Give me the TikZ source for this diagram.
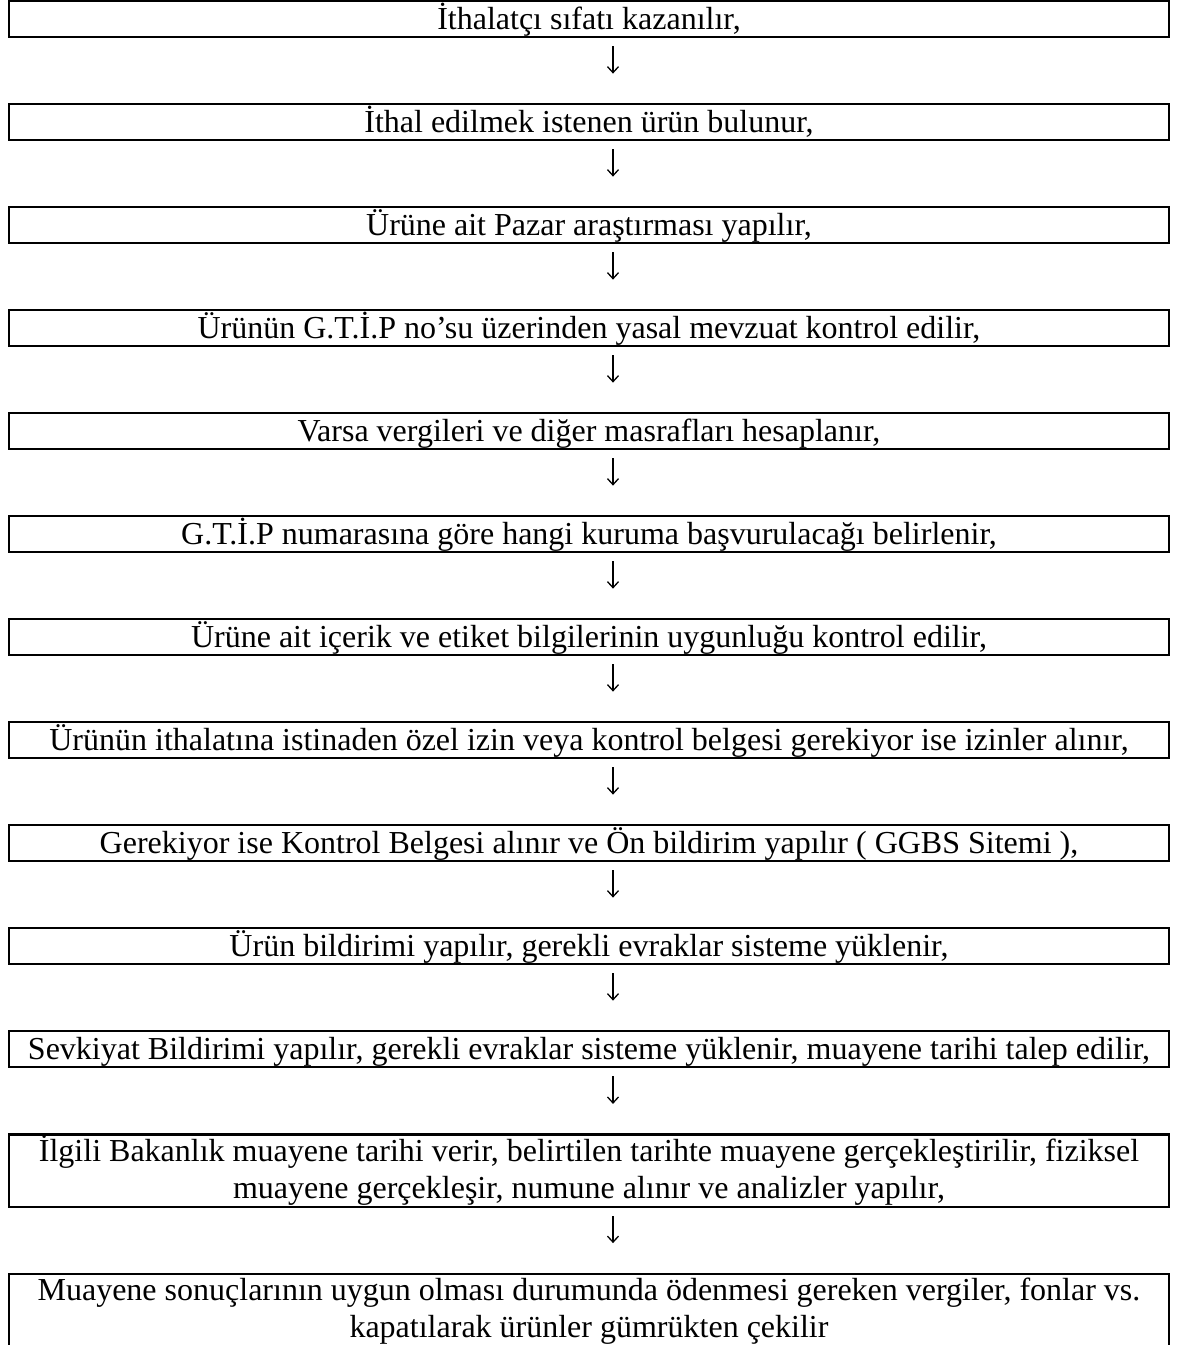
\documentclass[tikz,border=0pt]{standalone}
\usepackage{fontspec}
\setmainfont{Liberation Serif}
\usetikzlibrary{arrows.meta}

\begin{document}
\begin{tikzpicture}[x=1pt,y=-1pt,
  stepbox/.style={draw,line width=2.2pt,minimum width=1159.8pt,inner xsep=0pt,inner ysep=0pt,
    text height=27.9pt,text depth=8.2pt,font=\fontsize{32}{37}\selectfont},
  twoline/.style={stepbox,align=center,text height=64.3pt,text depth=8.5pt},
  flow/.style={-{Straight Barb[length=6pt,width=11pt]},line width=1.3pt,shorten <=7.7pt,shorten >=29.4pt}]
  \useasboundingbox (0,0) rectangle (1179,1345);

  \node[stepbox] (S1) at (589, 19.15) {İthalatçı sıfatı kazanılır,};
  \node[stepbox] (S2) at (589, 122.15) {İthal edilmek istenen ürün bulunur,};
  \node[stepbox] (S3) at (589, 225.15) {Ürüne ait Pazar araştırması yapılır,};
  \node[stepbox] (S4) at (589, 328.15) {Ürünün G.T.İ.P no’su üzerinden yasal mevzuat kontrol edilir,};
  \node[stepbox] (S5) at (589, 431.15) {Varsa vergileri ve diğer masrafları hesaplanır,};
  \node[stepbox] (S6) at (589, 534.15) {G.T.İ.P numarasına göre hangi kuruma başvurulacağı belirlenir,};
  \node[stepbox] (S7) at (589, 637.15) {Ürüne ait içerik ve etiket bilgilerinin uygunluğu kontrol edilir,};
  \node[stepbox] (S8) at (589, 740.15) {Ürünün ithalatına istinaden özel izin veya kontrol belgesi gerekiyor ise izinler alınır,};
  \node[stepbox] (S9) at (589, 843.15) {Gerekiyor ise Kontrol Belgesi alınır ve Ön bildirim yapılır ( GGBS Sitemi ),};
  \node[stepbox] (S10) at (589, 946.15) {Ürün bildirimi yapılır, gerekli evraklar sisteme yüklenir,};
  \node[stepbox] (S11) at (589, 1049.15) {Sevkiyat Bildirimi yapılır, gerekli evraklar sisteme yüklenir, muayene tarihi talep edilir,};
  \node[twoline] (S12) at (589, 1170.8) {İlgili Bakanlık muayene tarihi verir, belirtilen tarihte muayene gerçekleştirilir, fiziksel\\muayene gerçekleşir, numune alınır ve analizler yapılır,};
  \node[twoline] (S13) at (589, 1310) {Muayene sonuçlarının uygun olması durumunda ödenmesi gereken vergiler, fonlar vs.\\kapatılarak ürünler gümrükten çekilir};

  \draw[flow] ([xshift=24pt]S1.south) -- ([xshift=24pt]S2.north);
  \draw[flow] ([xshift=24pt]S2.south) -- ([xshift=24pt]S3.north);
  \draw[flow] ([xshift=24pt]S3.south) -- ([xshift=24pt]S4.north);
  \draw[flow] ([xshift=24pt]S4.south) -- ([xshift=24pt]S5.north);
  \draw[flow] ([xshift=24pt]S5.south) -- ([xshift=24pt]S6.north);
  \draw[flow] ([xshift=24pt]S6.south) -- ([xshift=24pt]S7.north);
  \draw[flow] ([xshift=24pt]S7.south) -- ([xshift=24pt]S8.north);
  \draw[flow] ([xshift=24pt]S8.south) -- ([xshift=24pt]S9.north);
  \draw[flow] ([xshift=24pt]S9.south) -- ([xshift=24pt]S10.north);
  \draw[flow] ([xshift=24pt]S10.south) -- ([xshift=24pt]S11.north);
  \draw[flow] ([xshift=24pt]S11.south) -- ([xshift=24pt]S12.north);
  \draw[flow] ([xshift=24pt]S12.south) -- ([xshift=24pt]S13.north);
\end{tikzpicture}
\end{document}
